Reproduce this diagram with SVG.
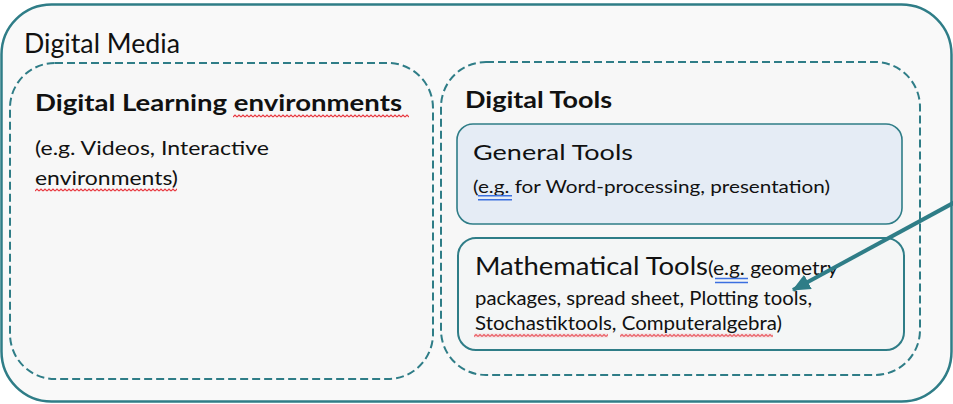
<svg xmlns="http://www.w3.org/2000/svg" width="953" height="404" viewBox="0 0 953 404">
  <style>
    .txt { font-family: Lato, "Liberation Sans", sans-serif; fill: #111; }
    .bold { font-weight: bold; }
    .outer { fill: #f9f9f9; stroke: #2f7d87; stroke-width: 2.5; }
    .group { fill: #f7f7f7; stroke: #2f7d87; stroke-width: 2; stroke-dasharray: 8 4; }
    .general { fill: #e5ecf5; stroke: #2f7d87; stroke-width: 1.6; }
    .math { fill: #f4f6f6; stroke: #2f7d87; stroke-width: 2; }
    .spell { fill: url(#squiggle); }
    .grammar { fill: none; stroke: #3b6fe0; stroke-width: 1.4; }
    .link { fill: none; stroke: #2f7d87; stroke-width: 4; }
  </style>
  <defs>
    <!-- red wavy spell-check underline tile -->
    <pattern id="squiggle" patternUnits="userSpaceOnUse" width="4" height="4">
      <path d="M0,3 L2,1 L4,3" fill="none" stroke="#e8343c" stroke-width="1.1"/>
    </pattern>
    <marker id="head" markerUnits="userSpaceOnUse" markerWidth="20" markerHeight="18" refX="17" refY="8" orient="auto">
      <path d="M0,0 L18,8 L0,16 Z" fill="#2f7d87"/>
    </marker>
  </defs>

  <rect width="953" height="404" fill="#ffffff"/>

  <!-- Digital Media container -->
  <g id="digital-media">
    <rect class="outer" x="1.5" y="4.5" width="950" height="397" rx="50"/>
    <text class="txt" x="24" y="53" font-size="26" textLength="156" lengthAdjust="spacingAndGlyphs">Digital Media</text>
  </g>

  <!-- Digital Learning environments -->
  <g id="learning-environments">
    <rect class="group" x="10" y="63" width="423" height="316" rx="45"/>
    <text class="txt bold" x="35" y="111" font-size="23" textLength="367" lengthAdjust="spacingAndGlyphs">Digital Learning environments</text>
    <rect class="spell" transform="translate(233,114)" width="176" height="4"/>
    <text class="txt" x="35" y="155" font-size="19" textLength="234" lengthAdjust="spacingAndGlyphs">(e.g. Videos, Interactive</text>
    <text class="txt" x="35" y="185" font-size="19" textLength="143" lengthAdjust="spacingAndGlyphs">environments)</text>
    <rect class="spell" transform="translate(35,188)" width="142" height="4"/>
  </g>

  <!-- Digital Tools -->
  <g id="digital-tools">
    <rect class="group" x="441" y="62" width="479" height="313" rx="45"/>
    <text class="txt bold" x="465" y="108" font-size="23" textLength="147" lengthAdjust="spacingAndGlyphs">Digital Tools</text>
  </g>

  <!-- General Tools -->
  <g id="general-tools">
    <rect class="general" x="457" y="124" width="445" height="100" rx="16"/>
    <text class="txt" x="473" y="160" font-size="22" textLength="160" lengthAdjust="spacingAndGlyphs">General Tools</text>
    <text class="txt" x="473" y="193" font-size="18" textLength="357" lengthAdjust="spacingAndGlyphs">(e.g. for Word-processing, presentation)</text>
    <path class="grammar" d="M478,195.8 H512 M478,199.8 H512"/>
  </g>

  <!-- Mathematical Tools -->
  <g id="mathematical-tools">
    <rect class="math" x="458" y="238" width="446" height="112" rx="18"/>
    <text class="txt" x="475" y="275" font-size="25" textLength="233" lengthAdjust="spacingAndGlyphs">Mathematical Tools</text>
    <text class="txt" x="708" y="275" font-size="18.5" textLength="130" lengthAdjust="spacingAndGlyphs">(e.g. geometry</text>
    <path class="grammar" d="M715,278.5 H748 M715,282.5 H748"/>
    <text class="txt" x="475" y="305" font-size="18.5" textLength="337" lengthAdjust="spacingAndGlyphs">packages, spread sheet, Plotting tools,</text>
    <text class="txt" x="475" y="330" font-size="18.5" textLength="307" lengthAdjust="spacingAndGlyphs">Stochastiktools, Computeralgebra)</text>
    <rect class="spell" transform="translate(474,333.5)" width="134" height="4"/>
    <rect class="spell" transform="translate(620,333.5)" width="153" height="4"/>
  </g>

  <!-- Connectors -->
  <g id="connectors">
    <line class="link" x1="956" y1="201.5" x2="793" y2="290" marker-end="url(#head)"/>
  </g>
</svg>
